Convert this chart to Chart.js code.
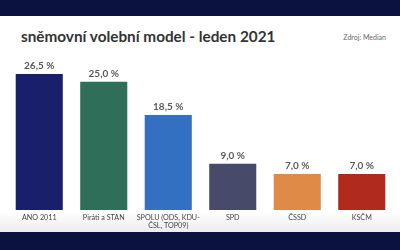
<!DOCTYPE html>
<html>
<head>
<meta charset="utf-8">
<script src="https://cdn.jsdelivr.net/npm/chart.js@4"></script>
<style>
  html, body { margin: 0; padding: 0; }
  body { width: 400px; height: 250px; position: relative; overflow: hidden;
         background: linear-gradient(to bottom, #ffffff 0px, #ffffff 212px, #ececec 232px); font-family: Lato, sans-serif; }
  .band { position: absolute; left: 0; width: 400px; background: #0c1240; }
  .band.top { top: 0; height: 16px; }
  .band.bottom { top: 232px; height: 18px; }
  .title { position: absolute; left: 21px; top: 27px; font-size: 15.3px; font-weight: bold; color: #333; white-space: nowrap; }
  .source { position: absolute; right: 14px; top: 33px; font-size: 7px; color: #666; }
  #wrap { position: absolute; left: 0; top: 0; width: 400px; height: 250px; }
</style>
</head>
<body>
<div class="band top"></div>
<div class="band bottom"></div>
<div class="title">sněmovní volební model - leden 2021</div>
<div class="source">Zdroj: Median</div>
<div id="wrap"><canvas id="chart"></canvas></div>
<script>
// data
const parties = ['ANO 2011', 'Piráti a STAN', ['SPOLU (ODS, KDU-', 'ČSL, TOP09)'], 'SPD', 'ČSSD', 'KSČM'];
const support = [26.5, 25.0, 18.5, 9.0, 7.0, 7.0];
const partyColors = ['#1a1f6b', '#2f6f5a', '#3370c2', '#484a6a', '#e08a48', '#b02a1e'];

// popisky hodnot nad sloupci
const valueLabels = {
    id: 'valueLabels',
    afterDatasetsDraw(chart) {
        const ctx = chart.ctx;
        const meta = chart.getDatasetMeta(0);
        ctx.save();
        ctx.font = 'bold 10px Lato, sans-serif';
        ctx.fillStyle = '#595959';
        ctx.textAlign = 'center';
        ctx.textBaseline = 'bottom';
        meta.data.forEach((bar, i) => {
            const txt = support[i].toFixed(1).replace('.', ',') + ' %';
            ctx.fillText(txt, bar.x, bar.y - 3);
        });
        ctx.restore();
    }
};

new Chart(document.getElementById('chart'), {
    type: 'bar',
    data: {
        labels: parties,
        datasets: [{
            data: support,
            backgroundColor: partyColors,
            categoryPercentage: 1,
            barPercentage: 0.73
        }]
    },
    options: {
        responsive: true,
        maintainAspectRatio: false,
        animation: false,
        layout: { padding: { left: 7, right: 6, top: 56, bottom: 16.7 } },
        plugins: { legend: { display: false }, tooltip: { enabled: false } },
        scales: {
            x: {
                grid: { display: false, drawTicks: false },
                border: { display: false },
                ticks: { color: '#444', font: { family: 'Lato, sans-serif', size: 7.2, lineHeight: 1.2 }, padding: 3,
                         maxRotation: 0, autoSkip: false }
            },
            y: { display: false, min: 0, max: 30 }
        }
    },
    plugins: [valueLabels]
});
</script>
</body>
</html>
